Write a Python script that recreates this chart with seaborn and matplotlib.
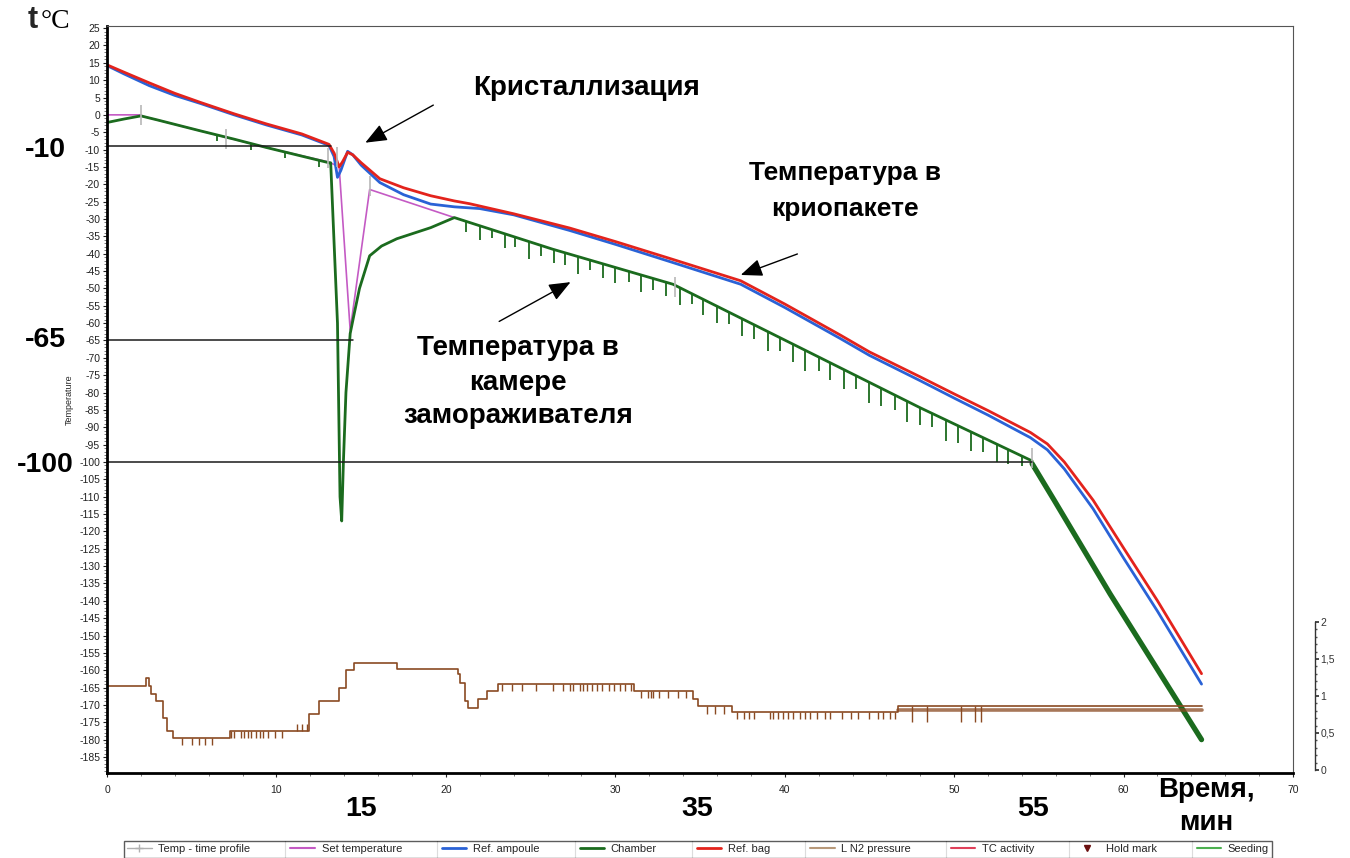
import matplotlib
matplotlib.use("Agg")
import matplotlib.pyplot as plt
import numpy as np
import pandas as pd
import seaborn as sns
from matplotlib.lines import Line2D
from matplotlib.ticker import MultipleLocator, FixedLocator

# %% Data read off the freezer log (time in min, temperature in deg C)
bag_x = [0, 1, 2.5, 4, 5.5, 7.5, 9.4, 11.5, 13.1, 13.4, 13.7, 13.9, 14.2, 14.5, 15, 16.1,
         17.5, 19.1, 20.5, 21.4, 24, 27.3, 30, 33.3, 37.4, 40, 43.3, 45, 48, 50, 52, 54.5,
         55.5, 56.5, 58.2, 60, 62, 64.6]
bag_y = [14.4, 12.3, 9.2, 6.2, 3.6, 0.3, -2.6, -5.5, -8.5, -11, -15, -13.5, -10.8, -11.5,
         -13.8, -18.4, -21, -23.3, -24.8, -25.6, -28.5, -32.6, -36.5, -41.5, -47.8, -54.5,
         -63.5, -68.3, -75.5, -80.4, -85.2, -91.5, -94.8, -100, -111, -124.8, -140, -161]

ampoule_x = [0, 1, 2.5, 4, 5.5, 7.5, 9.4, 11.5, 13.1, 13.4, 13.6, 13.8, 14.2, 14.5, 15, 16.1,
             17.5, 19.1, 20.5, 22, 24, 27.3, 30, 33.3, 37.4, 40, 43.3, 45, 48, 50, 52, 54.5,
             55.5, 56.5, 58.2, 60, 62, 64.6]
ampoule_y = [14.2, 11.8, 8.4, 5.6, 3.3, 0, -2.9, -5.8, -8.8, -12, -18, -16, -10.5, -11.5,
             -14.5, -19.5, -23, -25.7, -26.5, -27, -28.8, -33.3, -37.3, -42.4, -48.8, -55.5,
             -64.5, -69.3, -76.6, -81.6, -86.5, -93, -96.5, -102, -113.5, -127.7, -143, -164]

chamber_x = [0, 1, 2, 3, 5.5, 7.5, 9.4, 11.5, 13.1, 13.2, 13.6, 13.75, 13.85, 13.95, 14.1,
             14.35, 14.6, 14.9, 15.5, 16.2, 17.1, 19.1, 20.5, 26.3, 33.4, 42.1, 48, 54.6]
chamber_y = [-2.2, -1.2, -0.3, -1.5, -4.6, -7.0, -9.4, -11.9, -13.8, -13.8, -60, -110, -117,
             -100, -80, -63, -57, -50, -40.6, -37.8, -35.7, -32.5, -29.6, -38.7, -48.8, -70,
             -84.4, -99.7]
# after the last hold the chamber trace oscillates into a thick band
chamber_fast_x = [54.6, 55.9, 59.2, 64.6]
chamber_fast_y = [-100.5, -111, -138, -180]
# narrow downward spikes of the chamber sensor
spike_x = [6.5, 8.5, 10.5, 12.5,
           21.2, 22.0, 22.7, 23.5, 24.1, 24.9, 25.6, 26.4, 27.0, 27.8, 28.5, 29.3, 30.0,
           30.8, 31.5, 32.2, 33.0, 33.8, 34.5, 35.2, 36.0, 36.7, 37.5, 38.2, 39.0, 39.7,
           40.5, 41.2, 42.0, 42.7, 43.5, 44.2, 45.0, 45.7, 46.5, 47.2, 48.0, 48.7, 49.5,
           50.2, 51.0, 51.7, 52.5, 53.2, 54.0]
spike_top = [-5.8, -8.3, -10.8, -13.3,
             -30.7, -32.0, -33.1, -34.3, -35.2, -36.5, -37.6, -38.8, -39.7, -40.8, -41.8,
             -43.0, -44.0, -45.1, -46.1, -47.1, -48.2, -49.8, -51.5, -53.2, -55.1, -56.8,
             -58.8, -60.5, -62.4, -64.1, -66.1, -67.8, -69.8, -71.5, -73.4, -75.1, -77.1,
             -78.8, -80.5, -82.4, -84.4, -86.0, -87.9, -89.5, -91.4, -93.0, -94.9, -96.5,
             -98.3]
spike_bot = [-7.5, -10.2, -12.5, -15.0,
             -33.7, -36.0, -35.6, -38.3, -38.2, -41.5, -40.6, -42.8, -43.2, -45.8, -44.8,
             -47.0, -48.5, -48.1, -51.1, -50.6, -52.2, -54.8, -54.5, -57.7, -60.1, -60.3,
             -63.8, -64.5, -67.9, -68.1, -71.1, -73.8, -73.8, -76.5, -78.9, -79.1, -83.1,
             -83.8, -85.0, -88.4, -89.4, -90.0, -93.9, -94.5, -96.9, -97.0, -99.9, -100.5,
             -101.3]

setpoint_x = [0, 2, 2.1, 5.5, 9.4, 13.1, 13.7, 14.35, 15.5, 20.5]
setpoint_y = [0, 0, -0.4, -4.6, -9.4, -13.6, -15, -62, -21.5, -29.6]

# Temp - time profile marks (short grey ticks)
profile_x = [2, 7, 13.05, 13.6, 15.5, 33.5, 54.6]
profile_y = [0, -7, -12.5, -12, -20.5, -49.5, -99]

# L N2 pressure trace, drawn as steps on the temperature scale
ln2_x = [0, 2.3, 2.45, 2.6, 2.9, 3.3, 3.55, 3.9, 7.26, 11.9, 12.5, 13.7, 14.1, 14.6, 17.1,
         20.7, 20.85, 21.1, 21.3, 21.9, 22.4, 23.1, 31.1, 34.6, 34.9, 36.9, 46.7, 64.6]
ln2_y = [-164.4, -162.1, -164.4, -166.9, -169, -173.8, -177.5, -179.5, -177.5, -172.7,
         -168.9, -165, -160, -157.8, -159.7, -161, -163.6, -168.9, -170.8, -168.4, -166,
         -164, -166, -168.4, -170.4, -172, -170.3, -170.3]
ln2_tick_x = [4.4, 5.0, 5.4, 5.8, 6.2,
              7.3, 7.5, 7.9, 8.1, 8.3, 8.5, 8.8, 9.0, 9.2, 9.5, 9.9, 10.3, 11.2, 11.5, 11.8,
              23.3, 23.9, 24.5, 25.3, 26.3, 26.9, 27.3, 27.5, 27.9, 28.1, 28.3, 28.6, 28.9,
              29.2, 29.6, 29.9, 30.3, 30.6, 30.9,
              31.5, 31.9, 32.1, 32.2, 32.6, 33.1, 33.7, 34.2,
              35.4, 35.9, 36.4, 37.2, 37.6, 37.9, 38.2, 39.1, 39.3, 39.6, 39.9, 40.2, 40.5,
              40.9, 41.2, 41.5, 41.9, 42.4, 42.7, 43.4, 43.9, 44.3, 45.0, 45.5, 45.8, 46.2,
              46.5, 47.5, 48.4, 50.4, 51.2, 51.6]
ln2_tick_top = [-179.5] * 5 + [-177.5] * 12 + [-177.5] * 3 + [-164] * 19 + [-166] * 8 \
    + [-170.4] * 3 + [-172] * 24 + [-170.3] * 5
ln2_tick_bot = [-181.5] * 5 + [-179.5] * 12 + [-175.5] * 3 + [-166] * 19 + [-168] * 8 \
    + [-172.5] * 3 + [-174] * 24 + [-175] * 5
ln2_band_x = [46.7, 64.6]
ln2_band_y = [-171.4, -171.4]

# reference levels and tick labels
ref_levels = [-9, -65, -100]
ref_ends = [13.2, 14.5, 54.6]
ref_labels = ["-10", "-65", "-100"]
time_marks = ["15", "35", "55"]
pressure_ticks = [0, 0.5, 1, 1.5, 2]
pressure_labels = ["0", "0,5", "1", "1,5", "2"]

# %% Style
sns.set_theme(style="white")
plt.rcParams["font.family"] = ["Liberation Sans", "DejaVu Sans"]
plt.rcParams["axes.unicode_minus"] = False

RED = "#e3231c"
BLUE = "#2a62d6"
GREEN = "#1b6b1e"
MAGENTA = "#c45ac4"
BROWN = "#8a4a22"

fig = plt.figure(figsize=(13.5, 8.58), dpi=100)
ax = fig.add_axes([0.0793, 0.0991, 0.8785, 0.8706])

# %% Traces
sns.lineplot(x=setpoint_x, y=setpoint_y, ax=ax, color=MAGENTA, lw=1.2,
             estimator=None, sort=False)
sns.lineplot(x=chamber_x, y=chamber_y, ax=ax, color=GREEN, lw=2.0,
             estimator=None, sort=False)
ax.vlines(spike_x, spike_top, spike_bot, color=GREEN, lw=1.3)
sns.lineplot(x=chamber_fast_x, y=chamber_fast_y, ax=ax, color=GREEN, lw=3.8,
             estimator=None, sort=False)
sns.lineplot(x=ampoule_x, y=ampoule_y, ax=ax, color=BLUE, lw=2.0,
             estimator=None, sort=False)
sns.lineplot(x=bag_x, y=bag_y, ax=ax, color=RED, lw=2.0,
             estimator=None, sort=False)
sns.lineplot(x=ln2_x, y=ln2_y, ax=ax, color=BROWN, lw=1.2,
             estimator=None, sort=False, drawstyle="steps-post")
ax.vlines(ln2_tick_x, ln2_tick_top, ln2_tick_bot, color=BROWN, lw=1.0)
sns.lineplot(x=ln2_band_x, y=ln2_band_y, ax=ax, color=BROWN, lw=2.6, alpha=0.75,
             estimator=None, sort=False)
ax.plot(profile_x, profile_y, ls="none", marker="|", ms=14, mew=1.2, color="#b8b8b8")

# horizontal reference lines
for lvl, xe in zip(ref_levels, ref_ends):
    ax.plot([0, xe], [lvl, lvl], color="#1a1a1a", lw=1.1)

# %% Axes
ax.set_xlim(0, 70)
ax.xaxis.set_major_locator(MultipleLocator(10))
ax.xaxis.set_minor_locator(MultipleLocator(2))
ax.yaxis.set_minor_locator(MultipleLocator(1))
ax.set_yticks(np.arange(-185, 26, 5))
ax.set_ylim(-189.6, 25.6)
ax.tick_params(axis="both", which="major", direction="out", length=3, width=0.8,
               labelsize=7.5, pad=2, colors="#222222", left=True, bottom=True)
ax.tick_params(axis="both", which="minor", direction="out", length=2, width=0.5,
               left=True, bottom=True, colors="#444444")
ax.tick_params(axis="x", pad=6)
for side in ["left", "bottom"]:
    ax.spines[side].set_linewidth(2.0)
    ax.spines[side].set_color("black")
for side in ["top", "right"]:
    ax.spines[side].set_linewidth(0.8)
    ax.spines[side].set_color("#555555")
ax.set_ylabel("Temperature", fontsize=6.5, labelpad=4)
ax.grid(False)

# small secondary scale for the pressure
ax2 = fig.add_axes([0.974, 0.1026, 0.0001, 0.1725])
ax2.set_ylim(0, 2)
ax2.yaxis.tick_right()
ax2.yaxis.set_major_locator(FixedLocator(pressure_ticks))
ax2.yaxis.set_minor_locator(MultipleLocator(0.1))
ax2.set_yticklabels(pressure_labels)
ax2.set_xticks([])
for side in ["left", "top", "bottom"]:
    ax2.spines[side].set_visible(False)
ax2.spines["right"].set_linewidth(1.0)
ax2.spines["right"].set_color("#333333")
ax2.tick_params(axis="y", which="major", length=3, labelsize=7.5, pad=1,
                colors="#333333", right=True)
ax2.tick_params(axis="y", which="minor", length=1.5, right=True, colors="#555555")
ax2.patch.set_alpha(0)

# %% Annotations
bold = dict(fontweight="bold", color="black", ha="center", va="center")
arrow = dict(arrowstyle="-|>,head_length=1.1,head_width=0.45", color="black", lw=1.0)
ax.annotate("", xy=(15.1, -8.4), xytext=(19.4, 3.2), arrowprops=arrow)
ax.annotate("", xy=(37.25, -46.4), xytext=(40.9, -39.8), arrowprops=arrow)
ax.annotate("", xy=(27.5, -47.8), xytext=(23.0, -59.9), arrowprops=arrow)

inner_texts = [("Кристаллизация", 587, 88, 20),
               ("Температура в", 845, 173, 19), ("криопакете", 845, 209, 19),
               ("Температура в", 518, 348, 20), ("камере", 518, 383, 20),
               ("замораживателя", 518, 416, 20)]
for txt, px, py, fs in inner_texts:
    fig.text(px / 1350, 1 - py / 858, txt, fontsize=fs, **bold)

# outer labels
fig.text(28 / 1350, 1 - 20 / 858, "t", fontsize=22, fontweight="bold", ha="left",
         va="center")
fig.text(41 / 1350, 1 - 21 / 858, "°C", fontsize=20, ha="left", va="center",
         family="Liberation Serif", color="black")
for lbl, lvl in zip(ref_labels, [150, 340, 465]):
    fig.text(45 / 1350, 1 - lvl / 858, lbl, fontsize=20.5, **bold)
for lbl, px in zip(time_marks, [361, 697, 1033]):
    fig.text(px / 1350, 1 - 809 / 858, lbl, fontsize=20.5, **bold)
fig.text(1206 / 1350, 1 - 790 / 858, "Время,", fontsize=20, **bold)
fig.text(1206 / 1350, 1 - 823 / 858, "мин", fontsize=20, **bold)

# %% Legend
handles = [
    Line2D([], [], color="#b0b0b0", lw=1, marker="+", ms=6),
    Line2D([], [], color=MAGENTA, lw=1.5),
    Line2D([], [], color=BLUE, lw=2),
    Line2D([], [], color=GREEN, lw=2),
    Line2D([], [], color=RED, lw=2),
    Line2D([], [], color="#b8997a", lw=1.5),
    Line2D([], [], color="#e0405a", lw=1.5),
    Line2D([], [], color="#6b1010", ls="none", marker="v", ms=5),
    Line2D([], [], color="#4cb050", lw=1.5),
]
labels = ["Temp - time profile", "Set temperature", "Ref. ampoule", "Chamber",
          "Ref. bag", "L N2 pressure", "TC activity", "Hold mark", "Seeding"]
leg = fig.legend(handles, labels, loc="upper center",
                 bbox_to_anchor=(698 / 1350, 1 - 841 / 858),
                 ncol=9, fontsize=8, frameon=True, fancybox=False, edgecolor="#333333",
                 handlelength=2.2, columnspacing=3.6, borderpad=0.3, handletextpad=0.6,
                 borderaxespad=0)
leg.get_frame().set_linewidth(1.0)

# thin separators just before each legend handle, like the logger software draws
fig.canvas.draw()
frame_box = leg.get_frame().get_window_extent()
handle_span = (2.2 + 0.6) * 8 * fig.dpi / 72
for txt in leg.get_texts()[1:]:
    sep = txt.get_window_extent().x0 - handle_span - 5
    xs = sep / fig.bbox.width
    fig.add_artist(Line2D([xs, xs], [frame_box.y0 / fig.bbox.height,
                                     frame_box.y1 / fig.bbox.height],
                          color="#555555", lw=0.8))

fig.savefig("out.png", dpi=100, facecolor="white")
